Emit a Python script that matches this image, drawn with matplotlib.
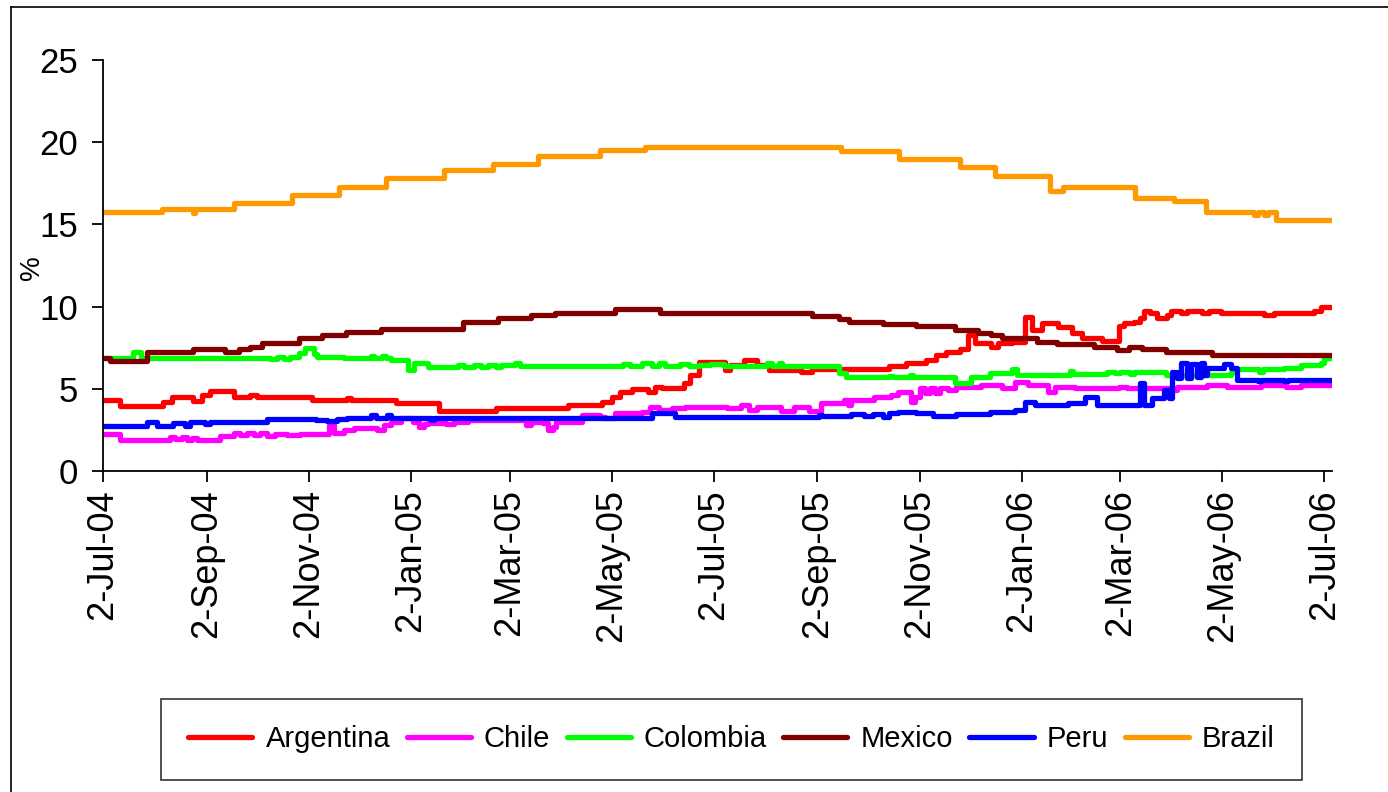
import numpy as np
import pandas as pd
import matplotlib
matplotlib.use("Agg")
import matplotlib.pyplot as plt
from matplotlib.lines import Line2D

plt.rcParams['font.family'] = ['Liberation Sans', 'DejaVu Sans']

start = pd.Timestamp("2004-07-02")

# change points: days after 2-Jul-04, value in %
arg_days = [0, 10, 36, 41, 54, 59, 64, 78, 88, 92, 125, 146, 148, 175, 201, 235, 278, 298, 304, 309,
            316, 326, 330, 334, 347, 351, 356, 372, 375, 383, 391, 398, 417, 424, 470, 480, 492, 498,
            504, 512, 517, 521, 531, 535, 543, 551, 555, 561, 571, 579, 585, 597, 607, 610, 616, 620,
            622, 626, 630, 636, 638, 644, 648, 657, 661, 668, 694, 700, 724, 728, 735]
arg_vals = [4.32, 3.97, 4.2, 4.48, 4.28, 4.62, 4.87, 4.48, 4.62, 4.48, 4.32, 4.45, 4.32, 4.12, 3.67, 3.81,
            4.01, 4.22, 4.52, 4.83, 4.99, 4.83, 5.13, 5.03, 5.33, 5.84, 6.65, 6.14, 6.45, 6.75, 6.45,
            6.14, 6.04, 6.18, 6.39, 6.55, 6.75, 7.06, 7.26, 7.40, 8.27, 7.77, 7.56, 7.77, 7.87, 9.39,
            8.58, 8.98, 8.78, 8.37, 8.07, 7.93, 8.84, 8.98, 9.08, 9.29, 9.75, 9.59, 9.29, 9.49, 9.75,
            9.59, 9.75, 9.59, 9.75, 9.59, 9.47, 9.59, 9.75, 9.96, 9.96]

chi_days = [0, 10, 40, 43, 47, 50, 53, 56, 70, 78, 82, 86, 90, 94, 98, 103, 110, 118, 135, 138, 144,
            150, 164, 168, 172, 178, 185, 189, 192, 194, 205, 210, 218, 253, 256, 263, 266, 269, 271,
            286, 297, 300, 306, 317, 322, 327, 332, 340, 348, 373, 381, 386, 391, 405, 413, 422, 429,
            443, 445, 447, 461, 471, 475, 483, 485, 488, 491, 494, 497, 500, 505, 510, 525, 537, 545,
            553, 565, 569, 581, 607, 612, 640, 642, 660, 672, 692, 707, 716, 735]
chi_vals = [2.25, 1.89, 2.09, 1.95, 2.05, 1.89, 2.0, 1.89, 2.13, 2.29, 2.2, 2.32, 2.2, 2.29, 2.15, 2.25,
            2.18, 2.25, 2.80, 2.29, 2.49, 2.60, 2.49, 2.80, 3.00, 3.24, 3.0, 2.70, 2.85, 2.95, 2.85,
            2.98, 3.10, 2.80, 3.0, 2.95, 2.49, 2.7, 3.0, 3.40, 3.3, 3.20, 3.55, 3.50, 3.6, 3.91, 3.71,
            3.81, 3.91, 3.85, 4.0, 3.71, 3.91, 3.67, 3.91, 3.67, 4.12, 4.32, 4.0, 4.32, 4.52, 4.62,
            4.83, 4.22, 4.52, 5.03, 4.73, 5.03, 4.73, 5.03, 4.93, 5.09, 5.23, 5.03, 5.43, 5.23, 4.83,
            5.13, 5.03, 5.13, 5.03, 4.95, 5.13, 5.23, 5.13, 5.23, 5.13, 5.23, 5.23]

col_days = [0, 18, 23, 100, 104, 108, 112, 117, 121, 126, 128, 144, 160, 162, 167, 169, 172, 182, 186,
            194, 212, 216, 222, 226, 230, 235, 238, 246, 249, 253, 311, 315, 322, 328, 332, 336, 345,
            350, 356, 363, 371, 397, 400, 404, 406, 440, 444, 451, 470, 472, 482, 484, 486, 509, 519,
            530, 543, 546, 578, 580, 600, 605, 608, 614, 616, 635, 674, 676, 691, 693, 706, 716, 728,
            730, 735]
col_vals = [6.85, 7.22, 6.85, 6.80, 6.92, 6.82, 6.92, 7.16, 7.46, 7.1, 6.95, 6.85, 7.0, 6.85, 7.0, 6.85,
            6.75, 6.14, 6.55, 6.35, 6.45, 6.35, 6.45, 6.35, 6.45, 6.35, 6.45, 6.55, 6.40, 6.39, 6.50,
            6.39, 6.55, 6.40, 6.55, 6.39, 6.50, 6.39, 6.45, 6.51, 6.39, 6.55, 6.39, 6.55, 6.39, 5.95,
            5.70, 5.74, 5.80, 5.74, 5.84, 5.74, 5.70, 5.37, 5.70, 5.98, 6.18, 5.84, 6.1, 5.9, 6.04,
            5.98, 6.04, 5.90, 6.04, 5.84, 6.04, 6.18, 6.04, 6.18, 6.25, 6.45, 6.59, 6.85, 6.85]

mex_days = [0, 4, 26, 54, 73, 81, 88, 95, 117, 131, 145, 166, 215, 236, 256, 270, 306, 333, 424, 440,
            446, 466, 486, 509, 523, 531, 537, 558, 570, 592, 606, 613, 621, 635, 663, 735]
mex_vals = [6.85, 6.69, 7.22, 7.40, 7.22, 7.40, 7.56, 7.77, 8.07, 8.27, 8.43, 8.62, 9.04, 9.29, 9.49,
            9.63, 9.83, 9.59, 9.43, 9.23, 9.08, 8.92, 8.82, 8.58, 8.41, 8.27, 8.07, 7.87, 7.70, 7.52,
            7.36, 7.56, 7.40, 7.22, 7.06, 7.06]

per_days = [0, 26, 32, 42, 49, 52, 61, 64, 98, 127, 134, 140, 146, 160, 163, 170, 172, 196, 198, 328,
            342, 428, 430, 447, 455, 460, 466, 470, 475, 486, 496, 510, 530, 545, 551, 557, 577, 587,
            594, 620, 622, 627, 634, 637, 639, 642, 644, 648, 650, 654, 656, 658, 660, 670, 674, 678,
            690, 692, 706, 708, 735]
per_vals = [2.76, 2.96, 2.76, 2.90, 2.76, 2.96, 2.85, 2.96, 3.14, 3.10, 3.05, 3.14, 3.24, 3.40, 3.24,
            3.40, 3.24, 3.10, 3.24, 3.51, 3.26, 3.41, 3.33, 3.45, 3.33, 3.48, 3.30, 3.51, 3.61, 3.51,
            3.35, 3.45, 3.60, 3.71, 4.22, 4.01, 4.15, 4.48, 4.01, 5.33, 4.01, 4.42, 4.93, 4.42, 6.04,
            5.64, 6.55, 5.64, 6.49, 5.74, 6.55, 5.84, 6.25, 6.49, 6.25, 5.54, 5.45, 5.54, 5.45, 5.54,
            5.54]

bra_days = [0, 35, 54, 55, 78, 113, 141, 169, 204, 233, 260, 297, 324, 441, 476, 512, 533, 566, 574,
            617, 640, 659, 688, 690, 694, 696, 701, 735]
bra_vals = [15.74, 15.92, 15.70, 15.92, 16.28, 16.79, 17.29, 17.80, 18.31, 18.65, 19.18, 19.53, 19.69,
            19.46, 18.98, 18.51, 17.96, 17.05, 17.29, 16.59, 16.44, 15.74, 15.60, 15.74, 15.60, 15.74,
            15.27, 15.27]

names = ["Argentina", "Chile", "Colombia", "Mexico", "Peru", "Brazil"]
colors = ["#FF0000", "#FF00FF", "#00FF00", "#800000", "#0000FF", "#FF9900"]
series = [(arg_days, arg_vals), (chi_days, chi_vals), (col_days, col_vals),
          (mex_days, mex_vals), (per_days, per_vals), (bra_days, bra_vals)]

fig = plt.figure(figsize=(13.88, 7.92), dpi=100)
ax = fig.add_axes([103 / 1388, 1 - 471 / 792, 1229 / 1388, 411 / 792])

for (d, v), name, c in zip(series, names, colors):
    x = start + pd.to_timedelta(np.array(d), unit="D")
    ax.plot(x, v, drawstyle="steps-post", color=c, lw=3.8, label=name,
            solid_joinstyle="round", solid_capstyle="round")

# ticks every two months, on the 2nd
ticks = pd.date_range("2004-07-01", "2006-07-01", freq="2MS") + pd.Timedelta(days=1)
ax.set_xticks(ticks)
ax.set_xticklabels([f"{t.day}-{t.strftime('%b-%y')}" for t in ticks], rotation=90, fontsize=26)
ax.set_xlim(start, start + pd.Timedelta(days=734.5))
ax.set_ylim(0, 25)
ax.set_yticks([0, 5, 10, 15, 20, 25])
ax.tick_params(axis="y", labelsize=25, length=8, width=1.3, pad=10)
ax.tick_params(axis="x", length=8, width=1.3, pad=5)
ax.set_ylabel("%", fontsize=20)
ax.yaxis.set_label_coords(-0.047, 0.494)
for s in ["top", "right"]:
    ax.spines[s].set_visible(False)
for s in ["left", "bottom"]:
    ax.spines[s].set_linewidth(1.3)

leg = fig.legend(loc="center", bbox_to_anchor=(0.527, 0.0663), ncol=6, fontsize=21,
                 frameon=True, fancybox=False, edgecolor="black", handlelength=2.2,
                 handletextpad=0.45, columnspacing=0.56, borderpad=0.92, borderaxespad=0)
leg.get_frame().set_linewidth(1.2)

# outer chart border (left and top visible)
fig.add_artist(Line2D([11 / 1388, 11 / 1388], [0, 1 - 7 / 792], color="black", lw=1.2))
fig.add_artist(Line2D([11 / 1388, 1], [1 - 7 / 792, 1 - 7 / 792], color="black", lw=1.2))

fig.savefig("out.png", dpi=100)
